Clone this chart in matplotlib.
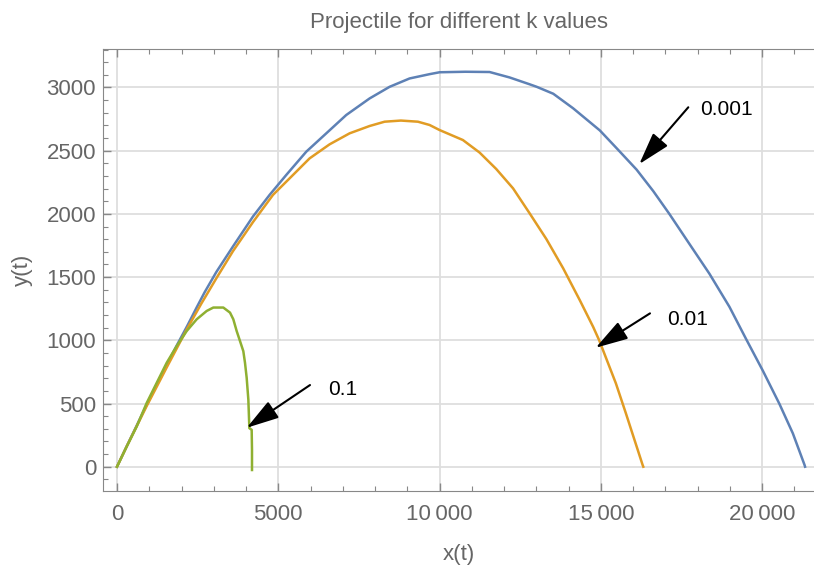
import matplotlib.pyplot as plt
from matplotlib.ticker import FixedLocator, MultipleLocator

plt.rcParams['font.family'] = ['Liberation Sans', 'DejaVu Sans']

# trajectories, one per drag coefficient k
x_k001 = [0, 300, 610, 920, 1230, 1540, 1850, 2180, 2470, 2717, 3079, 3595, 4215,
          4731, 5248, 5868, 6488, 7107, 7831, 8451, 9070, 9690, 10000, 10800,
          11550, 12170, 12790, 13010, 13525, 14140, 14968, 15486, 16107, 16624,
          17122, 17743, 18364, 18985, 19502, 20020, 20537, 20951, 21314, 21330]
y_k001 = [0, 162, 325, 490, 650, 805, 958, 1115, 1260, 1380, 1540, 1742, 1979,
          2150, 2308, 2492, 2637, 2782, 2913, 3005, 3071, 3105, 3120, 3124,
          3122, 3079, 3025, 3005, 2950, 2835, 2660, 2520, 2350, 2180,
          2000, 1763, 1527, 1265, 1010, 760, 496, 264, 14, 0]

x_k01 = [0, 300, 610, 920, 1230, 1540, 1850, 2160, 2470, 2614, 3079, 3595, 4215,
         4835, 5351, 5971, 6591, 7211, 7831, 8296, 8800, 9329, 9690, 10000,
         10723, 11240, 11756, 12277, 12795, 13312, 13830, 14347, 14761, 14948,
         15466, 15776, 16294, 16315]
y_k01 = [0, 160, 320, 480, 632, 785, 935, 1085, 1225, 1290, 1490, 1705, 1935,
         2150, 2281, 2439, 2550, 2637, 2695, 2729, 2738, 2729, 2703, 2663,
         2584, 2485, 2355, 2202, 2003, 1800, 1570, 1317, 1106, 1000,
         659, 422, 14, 0]

x_k1 = [0, 300, 610, 920, 1230, 1540, 1850, 2160, 2470, 2780, 2986, 3296, 3503,
        3606, 3710, 3813, 3916, 3968, 4020, 4072, 4103, 4175, 4185, 4185]
y_k1 = [0, 159, 318, 504, 663, 822, 954, 1073, 1166, 1232, 1259, 1259, 1219,
        1166, 1073, 994, 914, 822, 703, 530, 305, 292, 133, -26]

k_labels = ['0.001', '0.01', '0.1']
colors = ['#5E81B5', '#E19C24', '#8FB032']

xtick_vals = [0, 5000, 10000, 15000, 20000]
xtick_labels = ['0', '5000', '10\u2009000', '15\u2009000', '20\u2009000']
ytick_vals = [0, 500, 1000, 1500, 2000, 2500, 3000]

fig = plt.figure(figsize=(8.14, 5.68), dpi=100)
ax = fig.add_axes([103 / 814, 1 - 491 / 568, 1 - 103 / 814, (491 - 49) / 568])

for xs, ys, c in zip([x_k001, x_k01, x_k1], [y_k001, y_k01, y_k1], colors):
    ax.plot(xs, ys, color=c, lw=1.8, zorder=3, solid_joinstyle='round')

ax.set_xlim(-434, 21607)
ax.set_ylim(-192, 3304)

ax.xaxis.set_major_locator(FixedLocator(xtick_vals))
ax.set_xticklabels(xtick_labels)
ax.xaxis.set_minor_locator(MultipleLocator(1000))
ax.yaxis.set_major_locator(FixedLocator(ytick_vals))
ax.yaxis.set_minor_locator(MultipleLocator(100))

gray = '#666666'
ax.grid(True, which='major', color='#dedede', lw=1.3, zorder=0)
ax.tick_params(which='both', direction='in', top=True, right=False,
               color='#888888', labelcolor=gray, labelsize=16)
ax.tick_params(which='major', length=6, width=1)
ax.tick_params(which='minor', length=3.5, width=0.8)
ax.tick_params(axis='x', pad=9)
ax.tick_params(axis='y', pad=5)
for side in ['left', 'bottom', 'top']:
    ax.spines[side].set_color('#888888')
ax.spines['right'].set_visible(False)

ax.set_title('Projectile for different k values', color=gray, fontsize=16, pad=15)
ax.set_xlabel('x(t)', color=gray, fontsize=16, labelpad=14)
ax.set_ylabel('y(t)', color=gray, fontsize=16, labelpad=10)

# arrow labels: (text position, arrow tail, arrow tip)
notes = [((18073, 2829), (17710, 2843), (16191, 2394)),
         ((17040, 1166), (16523, 1213), (14840, 941)),
         ((6550, 612), (5983, 646), (4021, 308))]
for lab, (txt, tail, tip) in zip(k_labels, notes):
    ax.annotate('', xy=tip, xytext=tail, zorder=4,
                arrowprops=dict(arrowstyle='-|>,head_length=1.0,head_width=0.3',
                                mutation_scale=20, color='black', lw=1.5,
                                shrinkA=0, shrinkB=0))
    ax.text(txt[0], txt[1], lab, fontsize=15, color='black', ha='left', va='center',
            zorder=5, bbox=dict(fc='white', ec='none', pad=1))

fig.savefig('out.png', dpi=100)
